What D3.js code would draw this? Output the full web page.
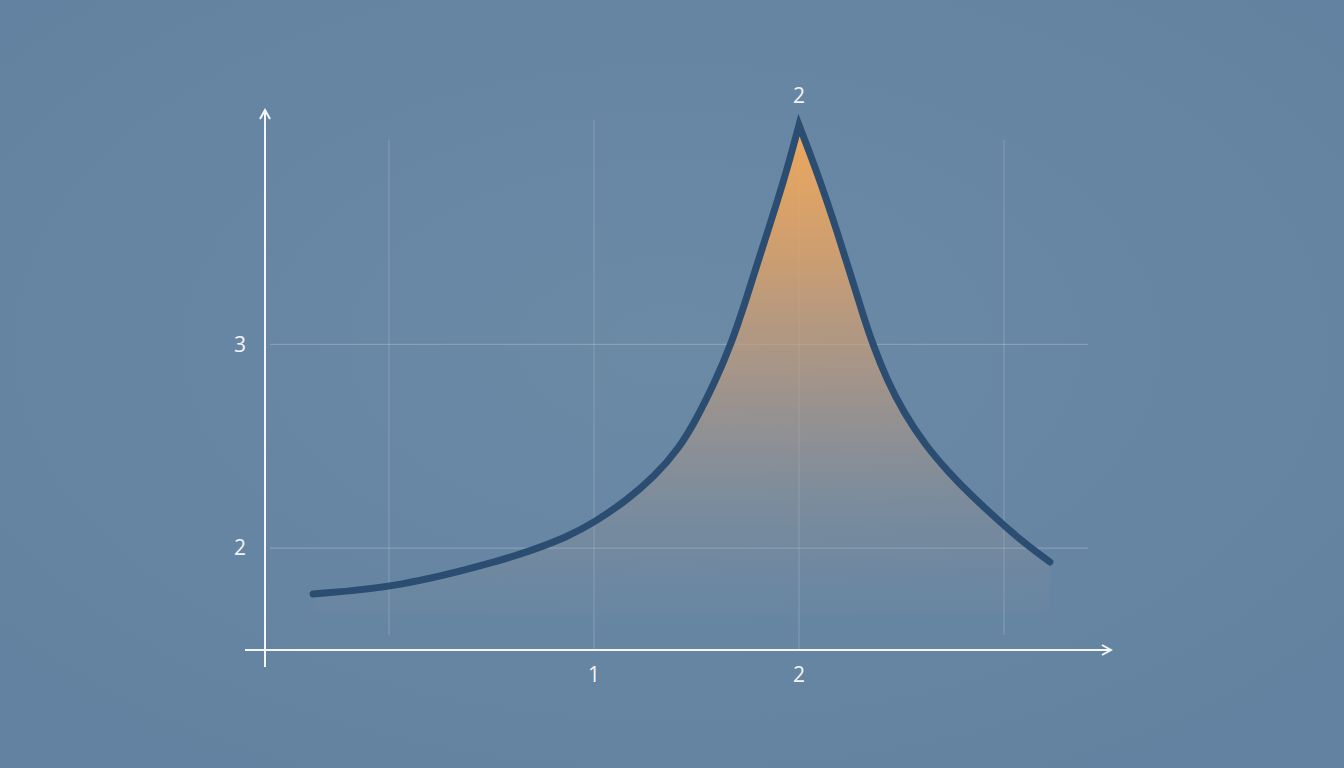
<!DOCTYPE html>
<html>
<head>
    <title>Peak curve</title>
    <script src="https://d3js.org/d3.v7.min.js"></script>
    <style>
        body { margin: 0; padding: 0; overflow: hidden; background: #6886a2; font-family: "Open Sans", Arial, sans-serif; }
    </style>
</head>
<body>
    <div id="chart"></div>
    <script>
        // curve, split at the sharp peak
        const leftX = [-0.37, 0.054, 0.541, 0.702, 0.868, 1.005, 1.161, 1.293, 1.42, 1.502, 1.585, 1.668, 1.741, 1.81, 1.873, 1.941, 2.0];
        const leftY = [1.775, 1.809, 1.937, 1.991, 2.054, 2.128, 2.236, 2.349, 2.496, 2.638, 2.805, 2.997, 3.217, 3.438, 3.634, 3.855, 4.076];
        const rightX = [2.0, 2.088, 2.171, 2.254, 2.317, 2.361, 2.429, 2.512, 2.615, 2.737, 2.824, 2.917, 3.078, 3.224];
        const rightY = [4.076, 3.845, 3.6, 3.335, 3.129, 2.997, 2.825, 2.663, 2.506, 2.364, 2.275, 2.187, 2.04, 1.932];
        const xGrid = [0, 1, 2, 3];
        const yGrid = [2, 3];
        const xTicks = [{ v: 1, label: "1" }, { v: 2, label: "2" }];
        const yTicks = [{ v: 2, label: "2" }, { v: 3, label: "3" }];
        const peakLabel = "2";

        const width = 1344, height = 768;
        const x = d3.scaleLinear().domain([-0.6, 3.5]).range([266, 1106.5]);
        const y = d3.scaleLinear().domain([1.5, 4.15]).range([650, 110]);

        const svg = d3.select("#chart").append("svg")
            .attr("width", width)
            .attr("height", height);

        const defs = svg.append("defs");

        const bg = defs.append("radialGradient").attr("id", "bg")
            .attr("cx", "50%").attr("cy", "45%").attr("r", "75%");
        bg.append("stop").attr("offset", "0%").attr("stop-color", "#6b8aa6");
        bg.append("stop").attr("offset", "100%").attr("stop-color", "#6281a0");

        const fill = defs.append("linearGradient").attr("id", "fill")
            .attr("gradientUnits", "userSpaceOnUse")
            .attr("x1", 0).attr("x2", 0)
            .attr("y1", y(4.076)).attr("y2", 625);
        fill.append("stop").attr("offset", "0%").attr("stop-color", "#f2a95a").attr("stop-opacity", 0.97);
        fill.append("stop").attr("offset", "25%").attr("stop-color", "#e4a364").attr("stop-opacity", 0.82);
        fill.append("stop").attr("offset", "50%").attr("stop-color", "#c89c78").attr("stop-opacity", 0.62);
        fill.append("stop").attr("offset", "80%").attr("stop-color", "#aa968a").attr("stop-opacity", 0.22);
        fill.append("stop").attr("offset", "100%").attr("stop-color", "#aa968a").attr("stop-opacity", 0);

        defs.append("marker").attr("id", "arrow")
            .attr("viewBox", "0 0 12 12")
            .attr("refX", 10).attr("refY", 6)
            .attr("markerWidth", 12).attr("markerHeight", 12)
            .attr("markerUnits", "userSpaceOnUse")
            .attr("orient", "auto")
            .append("path")
            .attr("d", "M1,1 L10,6 L1,11")
            .attr("fill", "none")
            .attr("stroke", "#f4f6f8")
            .attr("stroke-width", 2);

        svg.append("rect").attr("width", width).attr("height", height).attr("fill", "url(#bg)");

        // gridlines
        svg.selectAll(".vgrid").data(xGrid).enter().append("line")
            .attr("class", "vgrid")
            .attr("x1", d => x(d)).attr("x2", d => x(d))
            .attr("y1", d => d === 1 ? 120 : 140).attr("y2", d => d === 0 || d === 3 ? 635 : 650)
            .attr("stroke", "#ffffff").attr("stroke-opacity", 0.2).attr("stroke-width", 1);

        svg.selectAll(".hgrid").data(yGrid).enter().append("line")
            .attr("class", "hgrid")
            .attr("x1", 270).attr("x2", 1088)
            .attr("y1", d => y(d)).attr("y2", d => y(d))
            .attr("stroke", "#ffffff").attr("stroke-opacity", 0.25).attr("stroke-width", 1);

        const left = leftX.map((v, i) => [v, leftY[i]]);
        const right = rightX.map((v, i) => [v, rightY[i]]);
        // basis smooths out reading noise, still hits both end points
        const curve = d3.curveBasis;

        const area = d3.area()
            .x(d => x(d[0]))
            .y0(615)
            .y1(d => y(d[1]))
            .curve(curve);

        [left, right].forEach(seg => {
            svg.append("path").datum(seg).attr("d", area).attr("fill", "url(#fill)");
        });

        const line = d3.line()
            .x(d => x(d[0]))
            .y(d => y(d[1]))
            .curve(curve);

        // one path so the peak joins sharply
        svg.append("path")
            .attr("d", line(left) + "L" + line(right).slice(1))
            .attr("fill", "none")
            .attr("stroke", "#2c4d72")
            .attr("stroke-width", 7)
            .attr("stroke-linecap", "round")
            .attr("stroke-linejoin", "miter")
            .attr("stroke-miterlimit", 10);

        // axes
        svg.append("line")
            .attr("x1", 265).attr("x2", 265).attr("y1", 667).attr("y2", 110)
            .attr("stroke", "#f4f6f8").attr("stroke-width", 2)
            .attr("marker-end", "url(#arrow)");
        svg.append("line")
            .attr("x1", 245).attr("x2", 1111).attr("y1", 650).attr("y2", 650)
            .attr("stroke", "#f4f6f8").attr("stroke-width", 2)
            .attr("marker-end", "url(#arrow)");

        svg.selectAll(".ytick").data(yTicks).enter().append("text")
            .attr("x", 240).attr("y", d => y(d.v))
            .attr("dy", "0.35em")
            .attr("text-anchor", "middle")
            .attr("fill", "#f2f4f6").attr("font-size", 21)
            .text(d => d.label);

        svg.selectAll(".xtick").data(xTicks).enter().append("text")
            .attr("x", d => x(d.v)).attr("y", 675)
            .attr("dy", "0.35em")
            .attr("text-anchor", "middle")
            .attr("fill", "#f2f4f6").attr("font-size", 21)
            .text(d => d.label);

        svg.append("text")
            .attr("x", x(2)).attr("y", 96)
            .attr("dy", "0.35em")
            .attr("text-anchor", "middle")
            .attr("fill", "#f2f4f6").attr("font-size", 21)
            .text(peakLabel);
    </script>
</body>
</html>
